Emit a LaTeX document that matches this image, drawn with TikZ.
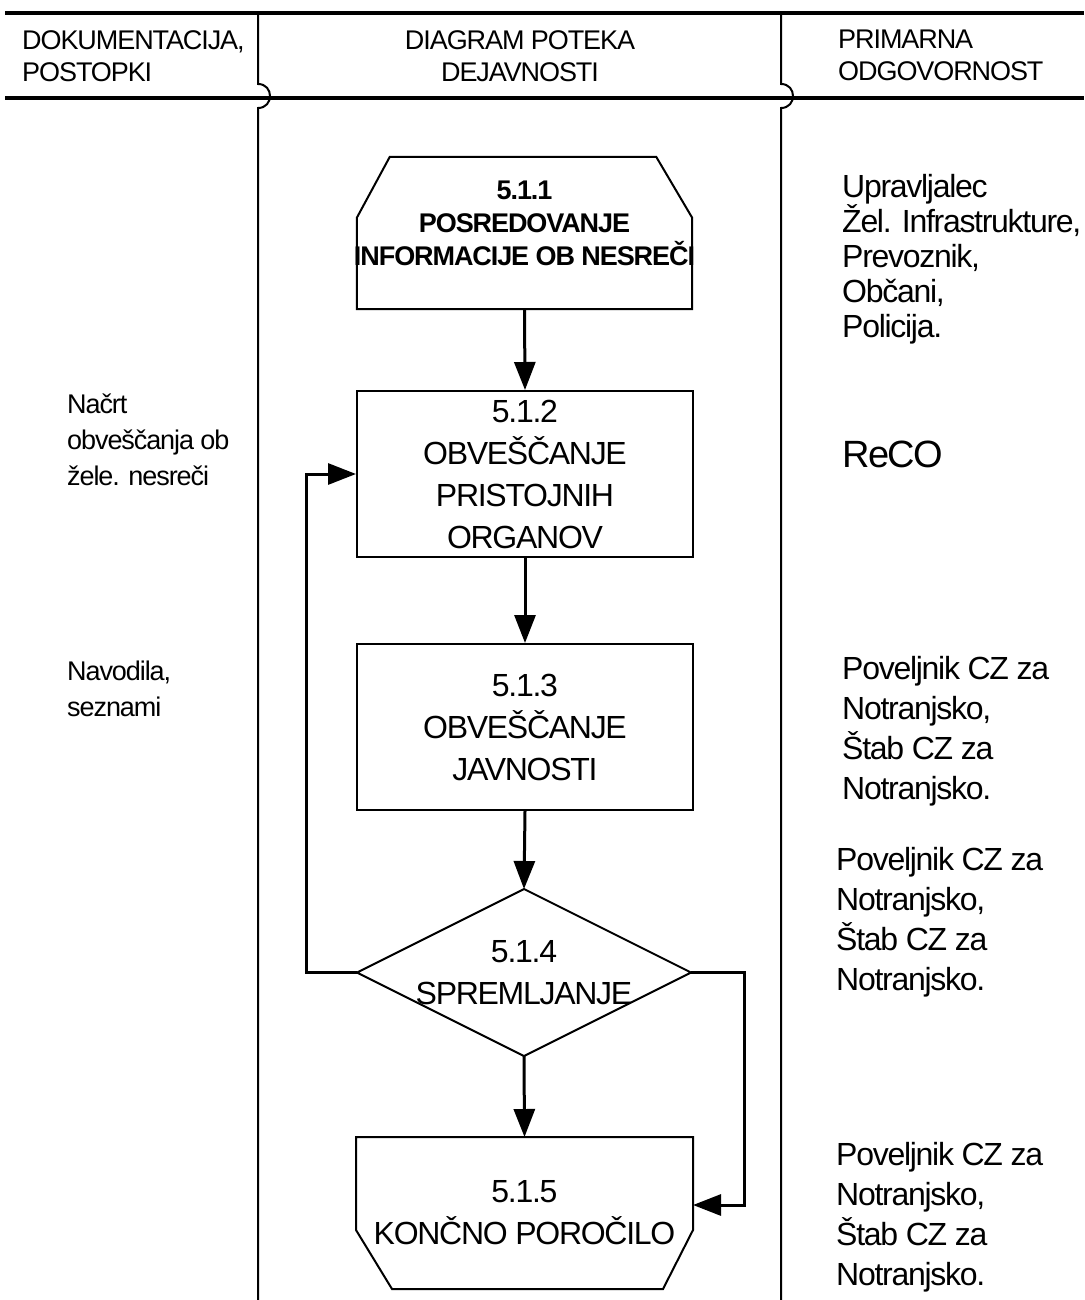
\documentclass[tikz,border=0pt]{standalone}
\usepackage{fontspec}
\setmainfont{Liberation Sans}[LetterSpace=-4]
\usetikzlibrary{arrows.meta}
\begin{document}
\begin{tikzpicture}[x=1pt,y=-1pt,
  hdr/.style={font=\fontsize{27}{32}\selectfont, inner sep=0pt},
  note/.style={font=\fontsize{27}{36}\selectfont, inner sep=0pt, align=left, anchor=north west},
  resp/.style={font=\fontsize{32}{40}\selectfont, inner sep=0pt, align=left, anchor=north west},
  box/.style={draw, line width=2pt, minimum width=336pt, minimum height=166pt, align=center, inner sep=0pt, font=\fontsize{32}{42}\selectfont},
  outline/.style={line width=2pt, line join=miter},
  flow/.style={line width=3pt, -{Triangle[length=28pt,width=21pt]}},
  rule/.style={line width=3.5pt},
  lane/.style={line width=2pt}]

\useasboundingbox (0,0) rectangle (1084,1300);

% header rules and lanes
\draw[rule] (5,13) -- (1084,13);
\draw[rule] (5,98) -- (1084,98);
\draw[lane] (258,13) -- (258,84) .. controls (274,84) and (274,108) .. (258,108) -- (258,1300);
\draw[lane] (781,13) -- (781,84) .. controls (797,84) and (797,108) .. (781,108) -- (781,1300);

\node[hdr, align=left, anchor=north west] (doc) at (22,30) {DOKUMENTACIJA,\\POSTOPKI};
\node[hdr, align=center, anchor=north] (dia) at (520,30) {DIAGRAM POTEKA\\DEJAVNOSTI};
\node[hdr, align=left, anchor=north west] (odg) at (838,30) {PRIMARNA\\ODGOVORNOST};

% activities
\node[minimum width=335pt, minimum height=152pt, inner sep=0pt] (n511) at (524.5,233) {};
\draw[outline] (n511.south west) -- ([yshift=-61pt]n511.north west) -- ([xshift=33pt]n511.north west)
  -- ([xshift=-36pt]n511.north east) -- ([yshift=-61pt]n511.north east) -- (n511.south east) -- cycle;
\node[font=\bfseries\fontsize{27}{33}\selectfont, align=center, inner sep=0pt] (t511) at (524.5,223)
  {5.1.1\\POSREDOVANJE\\INFORMACIJE OB NESREČI};

\node[box] (n512) at (525,474) {5.1.2\\OBVEŠČANJE\\PRISTOJNIH\\ORGANOV};
\node[box] (n513) at (525,727) {5.1.3\\OBVEŠČANJE\\JAVNOSTI};

\node[box, draw=none, minimum width=332pt, minimum height=165pt] (d514) at (524,972.5) {5.1.4\\SPREMLJANJE};
\draw[outline] (d514.north) -- (d514.east) -- (d514.south) -- (d514.west) -- cycle;

\node[box, draw=none, minimum width=335pt, minimum height=150pt] (n515) at (524.5,1213) {5.1.5\\KONČNO POROČILO};
\draw[outline] (n515.north west) -- (n515.north east) -- ([yshift=59pt]n515.south east) -- ([xshift=-30pt]n515.south east)
  -- ([xshift=36pt]n515.south west) -- ([yshift=59pt]n515.south west) -- cycle;

% connectors
\draw[flow] (n511.south) -- (n512.north);
\draw[flow] (n512.south) -- (n513.north);
\draw[flow] (n513.south) -- (d514.north);
\draw[flow] (d514.south) -- (n515.north);
\draw[flow] (d514.west) -- ++(-51,0) |- (n512.west);
\draw[flow] (d514.east) -- ++(53,0) |- ([yshift=8pt]n515.east);

% documents
\node[note] (nac) at (67,394) {Načrt\\obveščanja ob\\žele. nesreči};
\node[note] (nav) at (67,661) {Navodila,\\seznami};

% responsibility
\node[resp, font=\fontsize{32}{35}\selectfont] (upr) at (842,174) {Upravljalec\\Žel. Infrastrukture,\\Prevoznik,\\Občani,\\Policija.};
\node[resp, font=\fontsize{38}{40}\selectfont] (reco) at (842,441) {ReCO};
\node[resp] (pov1) at (842,656) {Poveljnik CZ za\\Notranjsko,\\Štab CZ za\\Notranjsko.};
\node[resp] (pov2) at (836,847) {Poveljnik CZ za\\Notranjsko,\\Štab CZ za\\Notranjsko.};
\node[resp] (pov3) at (836,1142) {Poveljnik CZ za\\Notranjsko,\\Štab CZ za\\Notranjsko.};

\end{tikzpicture}
\end{document}
